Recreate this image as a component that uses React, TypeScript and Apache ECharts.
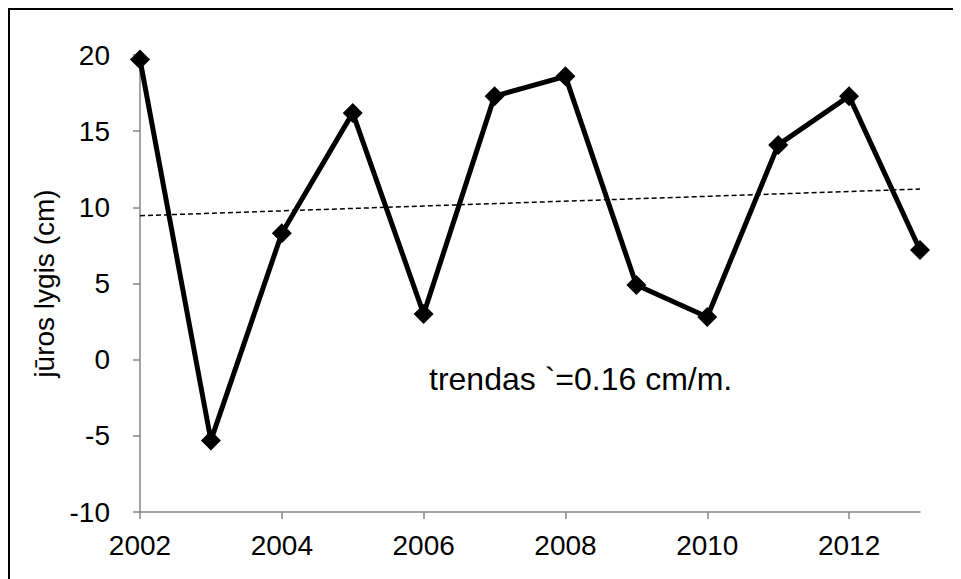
import React, { useEffect, useRef } from "react";
import * as echarts from "echarts";

const years = [2002, 2003, 2004, 2005, 2006, 2007, 2008, 2009, 2010, 2011, 2012, 2013];
const seaLevel = [19.7, -5.3, 8.3, 16.2, 3.0, 17.3, 18.6, 4.9, 2.8, 14.1, 17.3, 7.2];
const trendYears = [2002, 2013];
const trendValues = [9.45, 11.2];
const xTickValues = [2002, 2004, 2006, 2008, 2010, 2012];
const yAxisName = "jūros lygis (cm)";
const trendLabel = "trendas `=0.16 cm/m.";

export default function App() {
  const ref = useRef<HTMLDivElement>(null);
  useEffect(() => {
    if (!ref.current) return;
    const chart = echarts.init(ref.current, undefined, { renderer: "svg" });
    const font = "Arial, 'Liberation Sans', sans-serif";
    chart.setOption({
      animation: false,
      backgroundColor: "#ffffff",
      grid: { left: 132, right: 41, top: 47, bottom: 67 },
      xAxis: {
        type: "value",
        min: 2002,
        max: 2013,
        interval: 2,
        splitLine: { show: false },
        axisLine: { onZero: false, lineStyle: { color: "#868686", width: 1.5 } },
        axisTick: { show: true, length: 7, customValues: xTickValues, lineStyle: { color: "#868686", width: 1.5 } },
        axisLabel: {
          customValues: xTickValues,
          formatter: (v: number) => String(v),
          color: "#000",
          fontSize: 28,
          fontFamily: font,
          margin: 19,
        },
      },
      yAxis: {
        type: "value",
        min: -10,
        max: 20,
        interval: 5,
        name: yAxisName,
        nameLocation: "middle",
        nameGap: 76,
        nameTextStyle: { color: "#000", fontSize: 28, fontFamily: font },
        splitLine: { show: false },
        axisLine: { show: true, lineStyle: { color: "#868686", width: 1.5 } },
        axisTick: { show: true, length: 7, lineStyle: { color: "#868686", width: 1.5 } },
        axisLabel: { color: "#000", fontSize: 28, fontFamily: font, margin: 30 },
      },
      series: [
        {
          type: "line",
          data: trendYears.map((y, i) => [y, trendValues[i]]),
          symbol: "none",
          lineStyle: { color: "#000", width: 1.5, type: [5, 3] },
          z: 1,
        },
        {
          type: "line",
          data: years.map((y, i) => [y, seaLevel[i]]),
          symbol: "diamond",
          symbolSize: 20,
          itemStyle: { color: "#000" },
          lineStyle: { color: "#000", width: 5 },
          z: 2,
        },
      ],
      graphic: [
        {
          type: "rect",
          shape: { x: 1, y: 1, width: 3000, height: 3000 },
          style: { fill: "none", stroke: "#000", lineWidth: 2 },
          silent: true,
        },
        {
          type: "text",
          left: 421,
          top: 355,
          style: { text: trendLabel, fill: "#000", fontSize: 32, fontFamily: font },
        },
      ],
    });
    return () => chart.dispose();
  }, []);
  return <div ref={ref} style={{ width: 953, height: 571 }} />;
}
